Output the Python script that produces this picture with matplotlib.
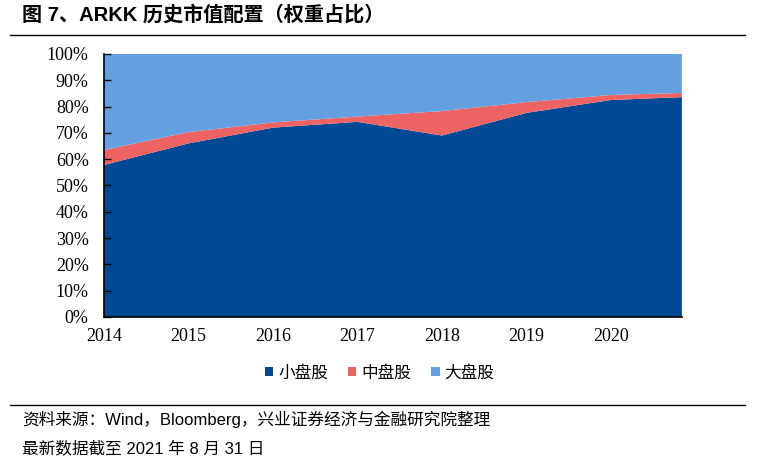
import matplotlib
matplotlib.use("Agg")
import matplotlib.pyplot as plt
import numpy as np
from matplotlib.patches import Patch
from matplotlib.lines import Line2D

# 数据（权重占比, %）
years = ["2014", "2015", "2016", "2017", "2018", "2019", "2020"]
x_pos = [0, 1, 2, 3, 4, 5, 6, 6.84]
small_cap = [57.8, 66.0, 72.0, 74.2, 69.0, 77.6, 82.5, 83.6]
mid_cap = [5.7, 4.3, 2.0, 2.0, 9.3, 4.1, 1.9, 1.6]
large_cap = [100 - s - m for s, m in zip(small_cap, mid_cap)]
labels = ["小盘股", "中盘股", "大盘股"]

c_small = "#004A93"
c_mid = "#EE6464"
c_large = "#64A0E0"

cjk = ["Noto Sans CJK SC", "DejaVu Sans"]
mixed = ["Liberation Sans", "Noto Sans CJK SC", "DejaVu Sans"]
serif = ["Liberation Serif", "DejaVu Serif"]

fig = plt.figure(figsize=(7.67, 4.65), dpi=100)
ax = fig.add_axes([0.1356, 0.3183, 0.889 - 0.1356, 0.8839 - 0.3183])

ax.stackplot(x_pos, small_cap, mid_cap, large_cap,
             colors=[c_small, c_mid, c_large], linewidth=0)

ax.set_xlim(0, x_pos[-1])
ax.set_ylim(0, 100)
ax.set_yticks(np.arange(0, 101, 10))
ax.set_yticklabels([f"{v}%" for v in range(0, 101, 10)], family=serif, fontsize=13)
ax.set_xticks(range(len(years)))
ax.set_xticklabels(years, family=serif, fontsize=13)
ax.tick_params(axis="y", direction="in", length=5, width=1, pad=11)
ax.tick_params(axis="x", length=0, pad=8)
for s in ["top", "right"]:
    ax.spines[s].set_visible(False)
ax.spines["left"].set_linewidth(1.2)
ax.spines["bottom"].set_linewidth(1.2)

# 图例
handles = [Patch(facecolor=c, edgecolor="none") for c in [c_small, c_mid, c_large]]
fig.legend(handles, labels, loc="center", bbox_to_anchor=(0.495, 1 - 373 / 465),
           ncol=3, frameon=False, prop={"family": cjk, "size": 12},
           handlelength=0.5, handleheight=0.5, handletextpad=0.3,
           columnspacing=1.2)

# 标题与分隔线
fig.text(22 / 767, 1 - 15 / 465, "图 7、ARKK 历史市值配置（权重占比）",
         family=mixed, fontsize=14.5, fontweight="bold", va="center", ha="left")
fig.add_artist(Line2D([10 / 767, 745 / 767], [1 - 35 / 465] * 2,
                      color="black", linewidth=1))
fig.add_artist(Line2D([10 / 767, 745 / 767], [1 - 405 / 465] * 2,
                      color="black", linewidth=1))

fig.text(22 / 767, 1 - 419 / 465, "资料来源：Wind，Bloomberg，兴业证券经济与金融研究院整理",
         family=mixed, fontsize=12, va="center", ha="left")
fig.text(22 / 767, 1 - 448 / 465, "最新数据截至 2021 年 8 月 31 日",
         family=mixed, fontsize=12, va="center", ha="left")

fig.savefig("out.png", dpi=100)
